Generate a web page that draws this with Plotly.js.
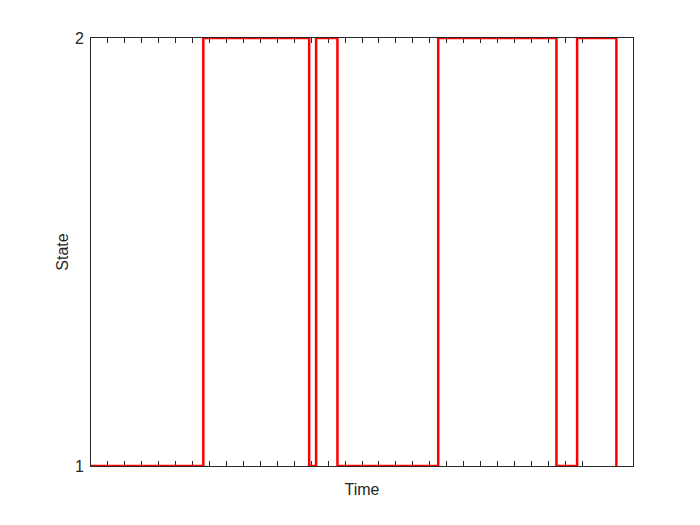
<!DOCTYPE html>
<html>
<head>
<meta charset="utf-8">
<script src="https://cdn.plot.ly/plotly-3.0.1.min.js"></script>
<style>html,body{margin:0;padding:0;background:#fff;}#chart{width:700px;height:525px;}</style>
</head>
<body>
<div id="chart"></div>
<script>
// Switch times and the state entered at each time (step function)
var times = [0, 6.63, 12.88, 13.29, 14.55, 20.50, 27.48, 28.70, 31.02];
var states = [1, 2, 1, 2, 1, 2, 1, 2, 1];
var xTicks = [1,2,3,4,5,6,7,8,9,10,11,12,13,14,15,16,17,18,19,20,21,22,23,24,25,26,27,28,29];
var yTicks = [1, 2];
var yTickText = ['1', '2'];

var trace = {
  x: times, y: states, type: 'scatter', mode: 'lines',
  line: {shape: 'hv', color: '#ff0000', width: 2.5},
  cliponaxis: false, hoverinfo: 'none'
};
var axisColor = '#262626';
var layout = {
  width: 700, height: 525,
  margin: {l: 91, r: 67, t: 38, b: 59},
  paper_bgcolor: '#ffffff', plot_bgcolor: '#ffffff',
  showlegend: false,
  font: {family: 'Liberation Sans, Arial, sans-serif', size: 16, color: axisColor},
  xaxis: {
    range: [0, 32], tickvals: xTicks, showticklabels: false,
    ticks: 'inside', ticklen: 5, tickwidth: 1, tickcolor: axisColor,
    showline: true, linecolor: axisColor, linewidth: 1, mirror: 'ticks',
    showgrid: false, zeroline: false, layer: 'below traces',
    title: {text: 'Time', font: {size: 16, color: axisColor}, standoff: 17}
  },
  yaxis: {
    range: [1, 2], tickvals: yTicks, ticktext: yTickText,
    ticks: 'inside', ticklen: 5, tickwidth: 1, tickcolor: axisColor,
    showline: true, linecolor: axisColor, linewidth: 1, mirror: 'ticks',
    showgrid: false, zeroline: false, layer: 'below traces',
    ticklabelstandoff: 3,
    tickfont: {size: 16, color: axisColor},
    title: {text: 'State', font: {size: 16, color: axisColor}, standoff: 2}
  }
};
Plotly.newPlot('chart', [trace], layout, {staticPlot: true, displayModeBar: false});
</script>
</body>
</html>
